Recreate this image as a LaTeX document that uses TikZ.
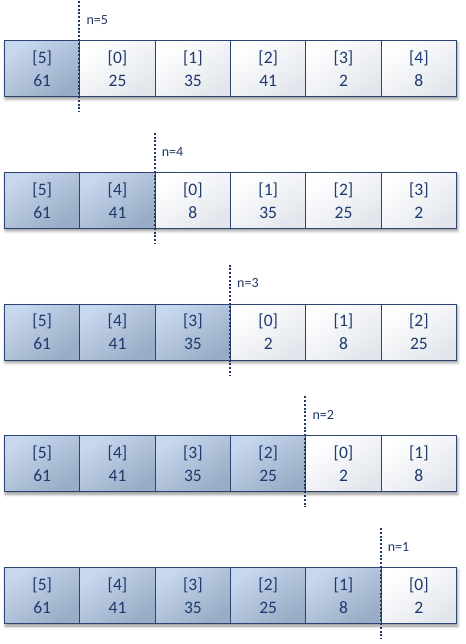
\documentclass[tikz,border=0pt]{standalone}
\usepackage{fontspec}
\setmainfont{Carlito}
\usetikzlibrary{shadows.blur}
\definecolor{navy}{HTML}{1F3864}
\definecolor{txt}{HTML}{1F3A6E}
\definecolor{cellborder}{HTML}{2B4570}
\definecolor{darktop}{HTML}{C6D7EE}
\definecolor{darkbot}{HTML}{9AABC5}
\definecolor{whitebot}{HTML}{E2E6EC}
\tikzset{
  cell/.style={draw=cellborder, line width=1.1pt, minimum width=75.33pt, minimum height=56pt,
    inner sep=0pt, align=center, font=\fontsize{17.5}{23}\selectfont, text=txt, anchor=north west},
  sorted/.style={cell, top color=darktop, bottom color=darkbot, shading angle=35},
  unsorted/.style={cell, top color=white, bottom color=whitebot, shading angle=35},
  rowshadow/.style={blur shadow={shadow xshift=1.5pt, shadow yshift=-3pt, shadow blur steps=6, shadow blur radius=3pt, shadow opacity=45}},
  divider/.style={draw=navy, line width=2.3pt, dash pattern=on 2pt off 1.8pt},
  nlabel/.style={font=\fontsize{14}{16}\selectfont, text=navy, anchor=west, inner sep=0pt}
}
\begin{document}
\begin{tikzpicture}[x=1pt, y=-1pt]
\useasboundingbox (0,0) rectangle (465,644);
\foreach \row/\k/\cells in {
  0/1/{5/61,0/25,1/35,2/41,3/2,4/8},
  1/2/{5/61,4/41,0/8,1/35,2/25,3/2},
  2/3/{5/61,4/41,3/35,0/2,1/8,2/25},
  3/4/{5/61,4/41,3/35,2/25,0/2,1/8},
  4/5/{5/61,4/41,3/35,2/25,1/8,0/2}}{
  \pgfmathsetmacro\tp{40+131.75*\row}
  \pgfmathsetmacro\xd{4+75.33*\k}
  \pgfmathtruncatemacro\nv{5-\row}
  \path[rowshadow] (4,\tp) rectangle (456,\tp+56);
  \foreach \idx/\v [count=\i from 0] in \cells {
    \ifnum\i<\k\relax\def\sty{sorted}\else\def\sty{unsorted}\fi
    \node[\sty] (c\row-\i) at (4+75.33*\i,\tp) {[\idx]\\\v};
  }
  \coordinate (dt\row) at (\xd,\tp-39);
  \coordinate (db\row) at (\xd,\tp+72);
  \draw[divider] (dt\row) -- (db\row);
  \node[nlabel] (n\row) at (\xd+7,\tp-20) {n=\nv};
}
\end{tikzpicture}
\end{document}
